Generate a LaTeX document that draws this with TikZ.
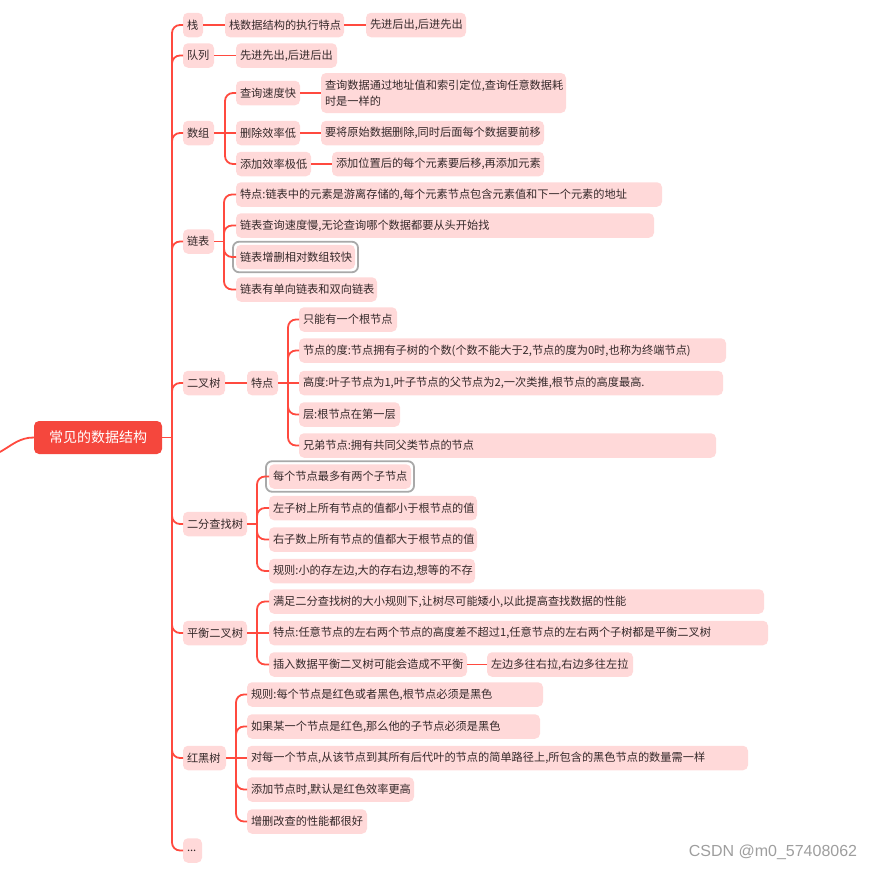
\documentclass[tikz,border=0pt]{standalone}
\usepackage{fontspec}
\setmainfont{Noto Sans CJK SC}
\newfontfamily\markfont{Liberation Sans}
\usetikzlibrary{fit}
\definecolor{linkred}{HTML}{FF4A3F}
\definecolor{rootred}{HTML}{F5473D}
\definecolor{leafpink}{HTML}{FFD9D9}
\definecolor{inkdark}{HTML}{35292A}
\definecolor{ringgray}{HTML}{A9A9A9}
\definecolor{markgray}{HTML}{9E9E9E}
% text set left in a box of fixed width (pt)
\newcommand{\lw}[2]{\makebox[#1pt][l]{#2}}

\begin{document}
\begin{tikzpicture}[x=1pt, y=-1pt,
  topic/.style={fill=rootred, text=white, rounded corners=5pt, font=\fontsize{14}{16}\selectfont,
    minimum width=128pt, minimum height=33pt, inner sep=0pt, outer sep=0pt},
  leaf/.style={fill=leafpink, text=inkdark, rounded corners=5pt, font=\fontsize{11.2}{16}\selectfont,
    minimum height=24.5pt, inner xsep=4pt, inner ysep=0pt, outer sep=0pt, anchor=west},
  link/.style={draw=linkred, line width=1.8pt},
  branch/.style={link, rounded corners=8pt},
  ring/.style={draw=ringgray, line width=1.8pt, rounded corners=6pt, inner sep=3pt}]
  \useasboundingbox (0,0) rectangle (876,870);

  % root
  \node[topic] (root) at (98,437.5) {常见的数据结构};
  \coordinate (lead) at (0,452);
  \draw[link] (lead) to[out=30,in=180] (root.west);

  % first level
  \node[leaf] (stk) at (183,25) {\lw{12}{栈}};
  \node[leaf] (que) at (183,55.5) {\lw{23}{队列}};
  \node[leaf] (arr) at (183,133) {\lw{23}{数组}};
  \node[leaf] (lnk) at (183,241.5) {\lw{23}{链表}};
  \node[leaf] (bin) at (183,383) {\lw{34}{二叉树}};
  \node[leaf] (bst) at (183,524) {\lw{56}{二分查找树}};
  \node[leaf] (avl) at (183,633) {\lw{56}{平衡二叉树}};
  \node[leaf] (rbt) at (183,758) {\lw{35}{红黑树}};
  \node[leaf] (more) at (183,850.5) {\lw{11}{...}};

  \coordinate (root-hub) at ([xshift=10pt]root.east);
  \draw[link] (root) -- (root-hub);
  \foreach \c in {stk,que,arr,lnk,bin,bst,avl,rbt,more}
    \draw[branch] (root-hub) |- (\c.west);

  % stack, queue
  \node[leaf] (stk-a) at (225,25) {\lw{111}{栈数据结构的执行特点}};
  \node[leaf] (stk-b) at (366,25) {\lw{92}{先进后出,后进先出}};
  \node[leaf] (que-a) at (236,55.5) {\lw{93}{先进先出,后进后出}};
  \draw[link] (stk) -- (stk-a);
  \draw[link] (stk-a) -- (stk-b);
  \draw[link] (que) -- (que-a);

  % array
  \node[leaf] (arr-a) at (236,93) {\lw{56}{查询速度快}};
  \node[leaf] (arr-b) at (236,133) {\lw{56}{删除效率低}};
  \node[leaf] (arr-c) at (236,164) {\lw{67}{添加效率极低}};
  \node[leaf, minimum height=40pt, align=left] (arr-a1) at (321,93)
    {\lw{237}{查询数据通过地址值和索引定位,查询任意数据耗}\\\lw{237}{时是一样的}};
  \node[leaf] (arr-b1) at (321,133) {\lw{215}{要将原始数据删除,同时后面每个数据要前移}};
  \node[leaf] (arr-c1) at (332,164) {\lw{204}{添加位置后的每个元素要后移,再添加元素}};
  \coordinate (arr-hub) at ([xshift=11pt]arr.east);
  \draw[link] (arr) -- (arr-hub) -- (arr-b);
  \foreach \c in {arr-a,arr-c}
    \draw[branch] (arr-hub) |- (\c.west);
  \draw[link] (arr-a) -- (arr-a1);
  \draw[link] (arr-b) -- (arr-b1);
  \draw[link] (arr-c) -- (arr-c1);

  % linked list
  \node[leaf] (lnk-a) at (236,194.5) {\lw{418}{特点:链表中的元素是游离存储的,每个元素节点包含元素值和下一个元素的地址}};
  \node[leaf] (lnk-b) at (236,225.5) {\lw{410}{链表查询速度慢,无论查询哪个数据都要从头开始找}};
  \node[leaf] (lnk-c) at (236,257) {\lw{111}{链表增删相对数组较快}};
  \node[leaf] (lnk-d) at (236,289.5) {\lw{133}{链表有单向链表和双向链表}};
  \node[ring, fit=(lnk-c)] (lnk-c-ring) {};
  \coordinate (lnk-hub) at ([xshift=10pt]lnk.east);
  \draw[link] (lnk) -- (lnk-hub);
  \foreach \c in {lnk-a,lnk-b,lnk-c,lnk-d}
    \draw[branch] (lnk-hub) |- (\c.west);

  % binary tree
  \node[leaf] (bin-a) at (247,383) {\lw{23}{特点}};
  \node[leaf] (bin-a1) at (299,319.5) {\lw{90}{只能有一个根节点}};
  \node[leaf] (bin-a2) at (299,350.5) {\lw{419}{节点的度:节点拥有子树的个数(个数不能大于2,节点的度为0时,也称为终端节点)}};
  \node[leaf] (bin-a3) at (299,383) {\lw{416}{高度:叶子节点为1,叶子节点的父节点为2,一次类推,根节点的高度最高.}};
  \node[leaf] (bin-a4) at (299,414.5) {\lw{93}{层:根节点在第一层}};
  \node[leaf] (bin-a5) at (299,445.5) {\lw{409}{兄弟节点:拥有共同父类节点的节点}};
  \draw[link] (bin) -- (bin-a);
  \coordinate (bin-hub) at ([xshift=10pt]bin-a.east);
  \draw[link] (bin-a) -- (bin-hub) -- (bin-a3);
  \foreach \c in {bin-a1,bin-a2,bin-a4,bin-a5}
    \draw[branch] (bin-hub) |- (\c.west);

  % binary search tree
  \node[leaf] (bst-a) at (269,476.5) {\lw{134}{每个节点最多有两个子节点}};
  \node[leaf] (bst-b) at (269,508) {\lw{200}{左子树上所有节点的值都小于根节点的值}};
  \node[leaf] (bst-c) at (269,539.5) {\lw{200}{右子数上所有节点的值都大于根节点的值}};
  \node[leaf] (bst-d) at (269,571) {\lw{198}{规则:小的存左边,大的存右边,想等的不存}};
  \node[ring, fit=(bst-a)] (bst-a-ring) {};
  \coordinate (bst-hub) at ([xshift=10pt]bst.east);
  \draw[link] (bst) -- (bst-hub);
  \foreach \c in {bst-a,bst-b,bst-c,bst-d}
    \draw[branch] (bst-hub) |- (\c.west);

  % balanced binary tree
  \node[leaf] (avl-a) at (269,601.5) {\lw{487}{满足二分查找树的大小规则下,让树尽可能矮小,以此提高查找数据的性能}};
  \node[leaf] (avl-b) at (269,633) {\lw{491}{特点:任意节点的左右两个节点的高度差不超过1,任意节点的左右两个子树都是平衡二叉树}};
  \node[leaf] (avl-c) at (269,664.5) {\lw{190}{插入数据平衡二叉树可能会造成不平衡}};
  \node[leaf] (avl-c1) at (487,664.5) {\lw{138}{左边多往右拉,右边多往左拉}};
  \coordinate (avl-hub) at ([xshift=10pt]avl.east);
  \draw[link] (avl) -- (avl-hub) -- (avl-b);
  \foreach \c in {avl-a,avl-c}
    \draw[branch] (avl-hub) |- (\c.west);
  \draw[link] (avl-c) -- (avl-c1);

  % red-black tree
  \node[leaf] (rbt-a) at (247,694.5) {\lw{288}{规则:每个节点是红色或者黑色,根节点必须是黑色}};
  \node[leaf] (rbt-b) at (247,726.5) {\lw{285}{如果某一个节点是红色,那么他的子节点必须是黑色}};
  \node[leaf] (rbt-c) at (247,758) {\lw{493}{对每一个节点,从该节点到其所有后代叶的节点的简单路径上,所包含的黑色节点的数量需一样}};
  \node[leaf] (rbt-d) at (247,789.5) {\lw{159}{添加节点时,默认是红色效率更高}};
  \node[leaf] (rbt-e) at (247,821.5) {\lw{112}{增删改查的性能都很好}};
  \coordinate (rbt-hub) at ([xshift=10pt]rbt.east);
  \draw[link] (rbt) -- (rbt-hub) -- (rbt-c);
  \foreach \c in {rbt-a,rbt-b,rbt-d,rbt-e}
    \draw[branch] (rbt-hub) |- (\c.west);

  \node[font=\markfont\fontsize{16}{18}\selectfont, text=markgray] (mark) at (773,852) {CSDN @m0\_57408062};
\end{tikzpicture}
\end{document}
